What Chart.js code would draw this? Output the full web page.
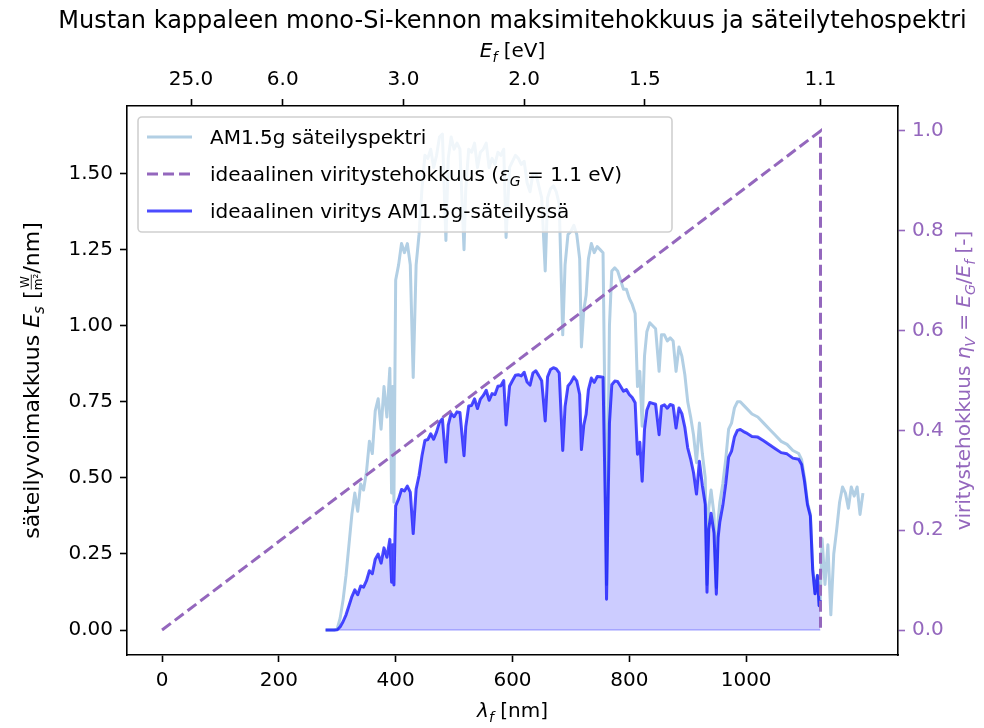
<!DOCTYPE html>
<html><head><meta charset="utf-8">
<script src="https://cdn.jsdelivr.net/npm/chart.js@4.4.1/dist/chart.umd.min.js"></script>
<style>html,body{margin:0;padding:0;background:#fff;}#wrap{width:984px;height:728px;}</style>
</head><body><div id="wrap"><canvas id="c" width="984" height="728"></canvas></div>
<script>
// ---- data ----
const wavelengths = [
 280, 290, 295, 300, 305, 310, 315, 320, 325, 330,
 335, 340, 345, 350, 355, 360, 365, 370, 375, 380,
 385, 390, 393, 395, 397, 400, 405, 410, 415, 420,
 425, 430, 435, 440, 445, 450, 455, 460, 465, 470,
 475, 480, 486, 490, 495, 500, 505, 510, 517, 520,
 525, 530, 535, 540, 545, 550, 555, 560, 565, 570,
 575, 580, 585, 589, 595, 600, 605, 610, 615, 620,
 625, 630, 635, 640, 645, 650, 656, 660, 665, 670,
 675, 680, 686, 690, 695, 700, 705, 710, 715, 718,
 722, 726, 730, 735, 740, 745, 750, 755, 759, 761,
 763, 766, 770, 775, 780, 785, 790, 795, 800, 805,
 810, 814, 818, 822, 826, 830, 835, 840, 845, 851,
 855, 860, 865, 870, 875, 880, 885, 890, 895, 900,
 905, 910, 915, 920, 925, 930, 933, 936, 940, 945,
 949, 952, 955, 960, 965, 970, 975, 980, 985, 990,
 995, 1000, 1010, 1020, 1030, 1040, 1050, 1060, 1070, 1080,
 1090, 1095, 1100, 1105, 1110, 1114, 1118, 1122, 1125, 1127,
 1130, 1135, 1140, 1145, 1150, 1155, 1160, 1165, 1170, 1175,
 1180, 1185, 1190, 1195, 1200
];
// AM1.5g spectral irradiance [W/m^2/nm]
const am15 = [
 0, 0, 0, 0.005, 0.04, 0.10, 0.18, 0.28, 0.38, 0.45,
 0.39, 0.48, 0.46, 0.52, 0.62, 0.58, 0.72, 0.76, 0.66, 0.80,
 0.70, 0.86, 0.45, 0.80, 0.42, 1.15, 1.20, 1.27, 1.24, 1.27,
 1.20, 0.83, 1.20, 1.30, 1.45, 1.56, 1.55, 1.58, 1.52, 1.56,
 1.62, 1.63, 1.28, 1.55, 1.62, 1.58, 1.60, 1.58, 1.25, 1.45,
 1.58, 1.57, 1.60, 1.52, 1.57, 1.58, 1.60, 1.52, 1.55, 1.53,
 1.57, 1.56, 1.58, 1.29, 1.52, 1.54, 1.56, 1.55, 1.53, 1.54,
 1.47, 1.44, 1.50, 1.50, 1.46, 1.42, 1.18, 1.42, 1.45, 1.46,
 1.44, 1.40, 0.97, 1.20, 1.30, 1.31, 1.33, 1.30, 1.22, 0.93,
 1.05, 1.10, 1.22, 1.27, 1.24, 1.26, 1.25, 1.24, 0.60, 0.15,
 0.50, 1.00, 1.18, 1.19, 1.18, 1.15, 1.12, 1.12, 1.09, 1.07,
 1.04, 0.80, 0.85, 0.67, 0.90, 0.98, 1.01, 1.00, 0.99, 0.85,
 0.97, 0.97, 0.95, 0.96, 0.95, 0.85, 0.93, 0.90, 0.84, 0.75,
 0.70, 0.64, 0.55, 0.68, 0.58, 0.50, 0.15, 0.40, 0.46, 0.38,
 0.14, 0.36, 0.42, 0.48, 0.56, 0.66, 0.68, 0.73, 0.75, 0.75,
 0.74, 0.73, 0.71, 0.70, 0.68, 0.66, 0.64, 0.62, 0.61, 0.59,
 0.58, 0.56, 0.50, 0.42, 0.38, 0.20, 0.12, 0.18, 0.08, 0.10,
 0.30, 0.15, 0.28, 0.05, 0.25, 0.33, 0.42, 0.47, 0.45, 0.40,
 0.47, 0.44, 0.47, 0.38, 0.45
];
// ideal excitation under AM1.5g [W/m^2/nm] (first 170 wavelengths, up to 1127 nm)
const excitation = [
 0, 0, 0, 0.001, 0.011, 0.028, 0.050, 0.080, 0.110, 0.132,
 0.116, 0.145, 0.141, 0.162, 0.195, 0.185, 0.233, 0.250, 0.220, 0.270,
 0.239, 0.298, 0.157, 0.280, 0.148, 0.408, 0.431, 0.462, 0.457, 0.473,
 0.453, 0.317, 0.463, 0.508, 0.573, 0.623, 0.626, 0.645, 0.627, 0.651,
 0.683, 0.694, 0.552, 0.674, 0.712, 0.701, 0.717, 0.715, 0.573, 0.669,
 0.736, 0.738, 0.760, 0.728, 0.759, 0.771, 0.788, 0.755, 0.777, 0.774,
 0.801, 0.803, 0.820, 0.674, 0.802, 0.820, 0.837, 0.839, 0.835, 0.847,
 0.815, 0.805, 0.845, 0.852, 0.836, 0.819, 0.687, 0.832, 0.856, 0.862,
 0.858, 0.845, 0.590, 0.735, 0.802, 0.814, 0.832, 0.819, 0.774, 0.593,
 0.673, 0.709, 0.790, 0.828, 0.814, 0.833, 0.832, 0.831, 0.404, 0.101,
 0.339, 0.680, 0.806, 0.818, 0.817, 0.801, 0.785, 0.790, 0.774, 0.764,
 0.747, 0.578, 0.617, 0.489, 0.660, 0.722, 0.748, 0.745, 0.742, 0.642,
 0.736, 0.740, 0.729, 0.741, 0.738, 0.664, 0.730, 0.711, 0.667, 0.599,
 0.562, 0.517, 0.447, 0.555, 0.476, 0.413, 0.124, 0.332, 0.384, 0.319,
 0.118, 0.304, 0.356, 0.409, 0.480, 0.568, 0.588, 0.635, 0.656, 0.659,
 0.653, 0.648, 0.636, 0.634, 0.622, 0.609, 0.596, 0.583, 0.579, 0.565,
 0.561, 0.544, 0.488, 0.412, 0.374, 0.198, 0.119, 0.179, 0.080, 0.100
];
// ideal excitation efficiency (E_G = 1.1 eV): corner points
const efficiencyWavelengths = [0, 1127.3, 1127.3];
const efficiencyValues = [0, 1.0, 0.0];
// tick labels
const bottomTicks = [0, 200, 400, 600, 800, 1000];
const topTickEnergies = [25.0, 6.0, 3.0, 2.0, 1.5, 1.1];
const leftTicks = [0, 0.25, 0.5, 0.75, 1.0, 1.25, 1.5];
const rightTicks = [0, 0.2, 0.4, 0.6, 0.8, 1.0];

// ---- styling ----
const FONT = '"DejaVu Sans", sans-serif';
const PURPLE = '#9467bd';
const LIGHTBLUE = 'rgb(178,207,228)';
const BLUE = 'rgba(0,0,255,0.7)';
const FILL = 'rgba(0,0,255,0.2)';

function setFont(ctx, size, it) { ctx.font = (it ? 'italic ' : '') + size + 'px ' + FONT; }
function pieceWidth(ctx, p, base) {
  if (p.frac) return p.w;
  setFont(ctx, p.size || base, p.it);
  return ctx.measureText(p.t).width;
}
function drawRich(ctx, pieces, x, y, o) {
  const base = o.size || 20;
  ctx.save();
  ctx.translate(x, y);
  if (o.rot) ctx.rotate(o.rot);
  ctx.fillStyle = o.color || '#000';
  ctx.strokeStyle = o.color || '#000';
  ctx.textBaseline = 'alphabetic';
  ctx.textAlign = 'left';
  let W = 0;
  for (const p of pieces) W += pieceWidth(ctx, p, base);
  let cx = o.align === 'center' ? -W / 2 : 0;
  for (const p of pieces) {
    if (p.frac) {
      setFont(ctx, Math.round(base * 0.55), false);
      const nw = ctx.measureText(p.num).width, dw = ctx.measureText(p.den).width;
      ctx.fillText(p.num, cx + (p.w - nw) / 2, -base * 0.45);
      ctx.fillText(p.den, cx + (p.w - dw) / 2, base * 0.15);
      ctx.lineWidth = 0.8;
      ctx.beginPath(); ctx.moveTo(cx + 1, -base * 0.35); ctx.lineTo(cx + p.w - 1, -base * 0.35); ctx.stroke();
      cx += p.w;
      continue;
    }
    setFont(ctx, p.size || base, p.it);
    ctx.fillText(p.t, cx, p.dy || 0);
    cx += ctx.measureText(p.t).width;
  }
  ctx.restore();
}
const SUB = 14, SUBDY = 5;

const annotations = {
  id: 'annotations',
  beforeDraw(chart) {
    const ctx = chart.ctx;
    ctx.save(); ctx.fillStyle = '#fff'; ctx.fillRect(0, 0, chart.width, chart.height); ctx.restore();
  },
  beforeDatasetsDraw(chart) {
    // lower edge of the filled excitation area
    const ctx = chart.ctx, xs = chart.scales.x, ys = chart.scales.y;
    const x0 = xs.getPixelForValue(wavelengths[0]);
    const x1 = xs.getPixelForValue(wavelengths[excitation.length - 1]);
    const y0 = ys.getPixelForValue(0);
    ctx.save();
    ctx.strokeStyle = 'rgba(0,0,255,0.25)'; ctx.lineWidth = 1.5;
    ctx.beginPath(); ctx.moveTo(x0, y0); ctx.lineTo(x1, y0); ctx.stroke();
    ctx.restore();
  },
  afterDraw(chart) {
    const ctx = chart.ctx;
    const a = chart.chartArea;
    const cxm = (a.left + a.right) / 2, cym = (a.top + a.bottom) / 2;
    // title
    drawRich(ctx, [{ t: 'Mustan kappaleen mono-Si-kennon maksimitehokkuus ja säteilytehospektri' }], cxm, 28, { align: 'center', size: 24 });
    // top axis label
    drawRich(ctx, [{ t: 'E', it: true }, { t: 'f', it: true, size: SUB, dy: SUBDY }, { t: ' [eV]' }], cxm, 57, { align: 'center' });
    // bottom axis label
    drawRich(ctx, [{ t: 'λ', it: true }, { t: 'f', it: true, size: SUB, dy: SUBDY }, { t: ' [nm]' }], cxm, 717, { align: 'center' });
    // left axis label
    drawRich(ctx, [{ t: 'säteilyvoimakkuus ' }, { t: 'E', it: true }, { t: 's', it: true, size: 15, dy: 5 },
      { t: ' [' }, { frac: true, num: 'W', den: 'm²', w: 17 }, { t: '/nm]' }], 39, cym, { align: 'center', rot: -Math.PI / 2, size: 22 });
    // right axis label
    drawRich(ctx, [{ t: 'viritystehokkuus ' }, { t: 'η', it: true }, { t: 'V', it: true, size: SUB, dy: SUBDY },
      { t: ' = ' }, { t: 'E', it: true }, { t: 'G', it: true, size: SUB, dy: SUBDY }, { t: '/' },
      { t: 'E', it: true }, { t: 'f', it: true, size: SUB, dy: SUBDY }, { t: ' [-]' }], 970, cym, { align: 'center', rot: -Math.PI / 2, color: PURPLE });
    // legend
    const lx = 138, ly = 117, lw = 534, lh = 115;
    ctx.save();
    ctx.beginPath();
    if (ctx.roundRect) ctx.roundRect(lx, ly, lw, lh, 4); else ctx.rect(lx, ly, lw, lh);
    ctx.fillStyle = 'rgba(255,255,255,0.8)';
    ctx.fill();
    ctx.strokeStyle = '#d0d0d0'; ctx.lineWidth = 1.6; ctx.stroke();
    const entries = [
      { color: LIGHTBLUE, dash: [], text: [{ t: 'AM1.5g säteilyspektri' }] },
      { color: PURPLE, dash: [11, 5], text: [{ t: 'ideaalinen viritystehokkuus (' }, { t: 'ε', it: true }, { t: 'G', it: true, size: SUB, dy: SUBDY }, { t: ' = 1.1 eV)' }] },
      { color: BLUE, dash: [], text: [{ t: 'ideaalinen viritys AM1.5g-säteilyssä' }] }
    ];
    entries.forEach((e, i) => {
      const y = 137 + i * 37;
      ctx.save();
      ctx.strokeStyle = e.color; ctx.lineWidth = 3; ctx.setLineDash(e.dash); ctx.lineCap = 'butt';
      ctx.beginPath(); ctx.moveTo(147, y); ctx.lineTo(192, y); ctx.stroke();
      ctx.restore();
      drawRich(ctx, e.text, 210, y + 7, {});
    });
    ctx.restore();
  }
};

const tickFont = { family: FONT, size: 20 };
function gridCfg(color) {
  return { display: true, drawOnChartArea: false, drawTicks: true, tickLength: 7, tickWidth: 1.6, tickColor: color };
}
const border = { display: true, color: '#000', width: 1.6 };

new Chart(document.getElementById('c'), {
  type: 'line',
  data: {
    datasets: [
      {
        label: 'AM1.5g säteilyspektri',
        data: wavelengths.map((w, i) => ({ x: w, y: am15[i] })),
        xAxisID: 'x', yAxisID: 'y',
        borderColor: LIGHTBLUE, borderWidth: 3, pointRadius: 0, fill: false, order: 3,
        borderJoinStyle: 'round', tension: 0
      },
      {
        label: 'ideaalinen viritys AM1.5g-säteilyssä',
        data: excitation.map((v, i) => ({ x: wavelengths[i], y: v })),
        xAxisID: 'x', yAxisID: 'y',
        borderColor: BLUE, backgroundColor: FILL, borderWidth: 3, pointRadius: 0, fill: 'origin', order: 2,
        borderJoinStyle: 'round', tension: 0
      },
      {
        label: 'ideaalinen viritystehokkuus',
        data: efficiencyWavelengths.map((w, i) => ({ x: w, y: efficiencyValues[i] })),
        xAxisID: 'x', yAxisID: 'y2',
        borderColor: PURPLE, borderWidth: 3, borderDash: [11, 5], pointRadius: 0, fill: false, order: 1, tension: 0
      }
    ]
  },
  options: {
    responsive: false,
    devicePixelRatio: 1,
    animation: false,
    events: [],
    layout: { padding: 0 },
    plugins: { legend: { display: false }, tooltip: { enabled: false } },
    scales: {
      x: {
        type: 'linear', position: 'bottom', min: -60, max: 1260,
        afterBuildTicks: s => { s.ticks = bottomTicks.map(v => ({ value: v })); },
        afterFit: s => { s.height = 73; },
        ticks: { font: tickFont, color: '#000', padding: 7, autoSkip: false, maxRotation: 0, callback: v => String(v) },
        grid: gridCfg('#000'), border: border
      },
      xTop: {
        type: 'linear', position: 'top', min: -60, max: 1260,
        afterBuildTicks: s => { s.ticks = topTickEnergies.map(e => ({ value: 1240 / e })); },
        afterFit: s => { s.height = 106; },
        ticks: { font: tickFont, color: '#000', padding: 7, autoSkip: false, maxRotation: 0, callback: (v, i) => topTickEnergies[i].toFixed(1) },
        grid: gridCfg('#000'), border: border
      },
      y: {
        type: 'linear', position: 'left', min: -0.082, max: 1.722,
        afterBuildTicks: s => { s.ticks = leftTicks.map(v => ({ value: v })); },
        afterFit: s => { s.width = 127; },
        ticks: { font: tickFont, color: '#000', padding: 7, autoSkip: false, callback: v => Number(v).toFixed(2) },
        grid: gridCfg('#000'), border: border
      },
      y2: {
        type: 'linear', position: 'right', min: -0.05, max: 1.05,
        afterBuildTicks: s => { s.ticks = rightTicks.map(v => ({ value: v })); },
        afterFit: s => { s.width = 86; },
        ticks: { font: tickFont, color: PURPLE, padding: 7, autoSkip: false, callback: v => Number(v).toFixed(1) },
        grid: gridCfg(PURPLE), border: border
      }
    }
  },
  plugins: [annotations]
});
</script>
</body></html>
